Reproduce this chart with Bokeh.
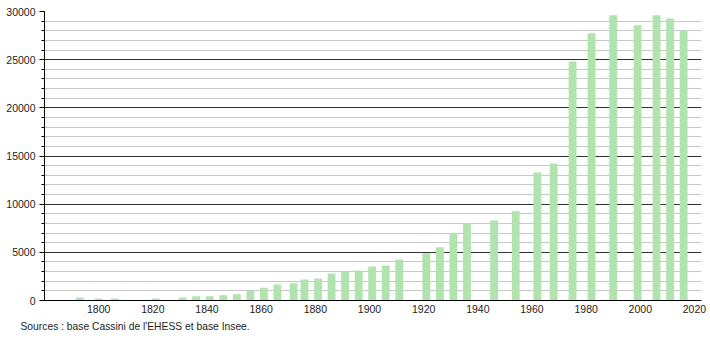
from bokeh.plotting import figure
from bokeh.models import Range1d, FixedTicker, SingleIntervalTicker, ColumnDataSource, Title
from bokeh.embed import file_html
from bokeh.resources import INLINE

years = [1793, 1800, 1806, 1821, 1831, 1836, 1841, 1846, 1851, 1856, 1861, 1866,
         1872, 1876, 1881, 1886, 1891, 1896, 1901, 1906, 1911, 1921, 1926, 1931,
         1936, 1946, 1954, 1962, 1968, 1975, 1982, 1990, 1999, 2006, 2011, 2016]
population = [310, 200, 200, 200, 300, 450, 450, 550, 660, 1040, 1330, 1660,
              1800, 2180, 2280, 2800, 2980, 3110, 3530, 3630, 4260, 4910, 5520, 6980,
              7990, 8300, 9270, 13290, 14220, 24810, 27750, 29620, 28580, 29620, 29270, 28030]
x_ticks = [1800, 1820, 1840, 1860, 1880, 1900, 1920, 1940, 1960, 1980, 2000, 2020]
source_text = "Sources : base Cassini de l'EHESS et base Insee."

src = ColumnDataSource(dict(x=years, top=population))

p = figure(frame_width=657, frame_height=289, output_backend="svg", toolbar_location=None,
           x_range=Range1d(1780, 2022.6), y_range=Range1d(0, 30000),
           min_border_left=44, min_border_right=9, min_border_top=11, min_border_bottom=0)
p.outline_line_color = None
p.background_fill_color = "white"

p.vbar(x="x", top="top", width=2.9, source=src, fill_color="#b0e3ad", line_color=None)

font = "Liberation Sans"
# x axis
p.xaxis.ticker = FixedTicker(ticks=x_ticks)
p.xaxis.major_tick_out = 0
p.xaxis.major_tick_in = 0
p.xaxis.minor_tick_out = 0
p.xaxis.axis_line_color = "black"
p.xaxis.major_label_text_font = font
p.xaxis.major_label_text_font_size = "10.5px"
p.xaxis.major_label_text_color = "#222222"
p.xaxis.major_label_standoff = 4
p.xgrid.grid_line_color = None

# y axis
p.yaxis.ticker = SingleIntervalTicker(interval=5000, num_minor_ticks=5)
p.yaxis.major_tick_out = 5
p.yaxis.major_tick_in = 0
p.yaxis.minor_tick_out = 3
p.yaxis.minor_tick_in = 0
p.yaxis.axis_line_color = "black"
p.yaxis.major_tick_line_color = "black"
p.yaxis.minor_tick_line_color = "black"
p.yaxis.major_label_text_font = font
p.yaxis.major_label_text_font_size = "10.5px"
p.yaxis.major_label_text_color = "#222222"
p.yaxis.major_label_standoff = 4
p.ygrid.grid_line_color = "#333333"
p.ygrid.minor_grid_line_color = "#c8c8c8"

t = Title(text=source_text, align="left", text_font=font, text_font_size="10.3px",
          text_font_style="normal", text_color="#222222", offset=-24, standoff=7)
p.add_layout(t, "below")

open("out.html", "w").write(file_html(p, INLINE))
